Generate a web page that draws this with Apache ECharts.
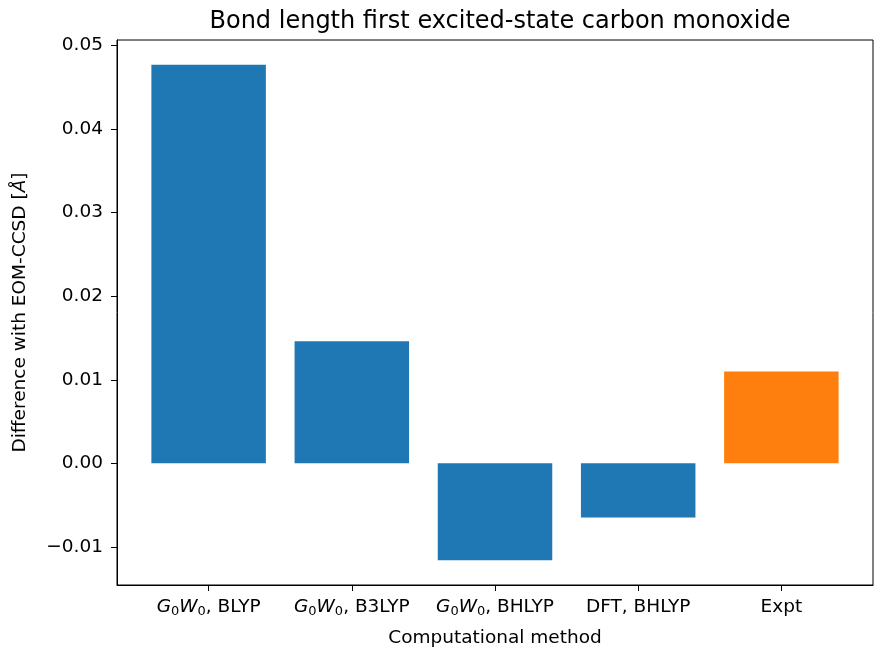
<!DOCTYPE html>
<html>
<head>
<meta charset="utf-8">
<script src="https://cdn.jsdelivr.net/npm/echarts@6/dist/echarts.min.js"></script>
<style>
html,body{margin:0;padding:0;background:#fff;}
#chart{width:874px;height:647px;}
</style>
</head>
<body>
<div id="chart"></div>
<script>
// Data
var categories = ['G0W0, BLYP', 'G0W0, B3LYP', 'G0W0, BHLYP', 'DFT, BHLYP', 'Expt'];
var values = [0.0477, 0.0146, -0.0116, -0.0065, 0.0110];
var yTicks = [-0.01, 0.00, 0.01, 0.02, 0.03, 0.04, 0.05];
var xTicks = [0, 1, 2, 3, 4];

var FONT = 'DejaVu Sans';
var blue = '#1f77b4', orange = '#ff7f0e';

function richLabel(name) {
  if (name.indexOf('G0W0') === 0) {
    return '{i|G}{s|0}{i|W}{s|0}{n|' + name.slice(4) + '}';
  }
  return '{n|' + name + '}';
}

var chart = echarts.init(document.getElementById('chart'), null, {renderer: 'canvas'});
var option = {
  animation: false,
  backgroundColor: '#fff',
  title: {
    text: 'Bond length first excited-state carbon monoxide',
    left: 495,
    textAlign: 'center',
    top: 5,
    textStyle: {fontFamily: FONT, fontSize: 24, fontWeight: 'normal', color: '#000'}
  },
  grid: {
    left: 117, right: 1, top: 40, bottom: 62,
    outerBoundsMode: 'none',
    containLabel: false,
    show: true, borderColor: '#000', borderWidth: 1, backgroundColor: 'transparent'
  },
  xAxis: {
    type: 'value',
    min: -0.64, max: 4.64,
    interval: 1,
    name: 'Computational method',
    nameLocation: 'middle',
    nameGap: 44,
    nameTextStyle: {fontFamily: FONT, fontSize: 18.5, color: '#000'},
    axisLine: {onZero: false, lineStyle: {color: '#000', width: 1}},
    axisTick: {show: true, inside: false, length: 6, customValues: xTicks, lineStyle: {color: '#000'}},
    splitLine: {show: false},
    axisLabel: {
      customValues: xTicks,
      margin: 11,
      fontFamily: FONT, fontSize: 18.5, color: '#000',
      formatter: function (v) { return richLabel(categories[Math.round(v)]); },
      rich: {
        i: {fontFamily: FONT, fontSize: 18.5, fontStyle: 'italic', color: '#000', lineHeight: 22, verticalAlign: 'middle'},
        s: {fontFamily: FONT, fontSize: 13, color: '#000', lineHeight: 13, verticalAlign: 'bottom'},
        n: {fontFamily: FONT, fontSize: 18.5, color: '#000', lineHeight: 22, verticalAlign: 'middle'}
      }
    }
  },
  yAxis: {
    type: 'value',
    min: -0.014565, max: 0.050665,
    interval: 0.01,
    name: 'Difference with EOM-CCSD [{i|Å}]',
    nameLocation: 'middle',
    nameGap: 87,
    nameRotate: 90,
    nameTextStyle: {
      fontFamily: FONT, fontSize: 18.5, color: '#000',
      rich: {i: {fontFamily: FONT, fontSize: 18.5, fontStyle: 'italic', color: '#000'}}
    },
    axisLine: {show: true, onZero: false, lineStyle: {color: '#000', width: 1}},
    axisTick: {show: true, inside: false, length: 6, customValues: yTicks, lineStyle: {color: '#000'}},
    splitLine: {show: false},
    axisLabel: {
      customValues: yTicks,
      margin: 14,
      fontFamily: FONT, fontSize: 18.5, color: '#000',
      formatter: function (v) { return (v < -1e-9 ? '\u2212' : '') + Math.abs(v).toFixed(2); }
    }
  },
  series: [{
    type: 'bar',
    barWidth: 114.5,
    data: values.map(function (v, i) {
      return {value: [i, v], itemStyle: {color: categories[i] === 'Expt' ? orange : blue}};
    })
  }]
};
chart.setOption(option);
</script>
</body>
</html>
